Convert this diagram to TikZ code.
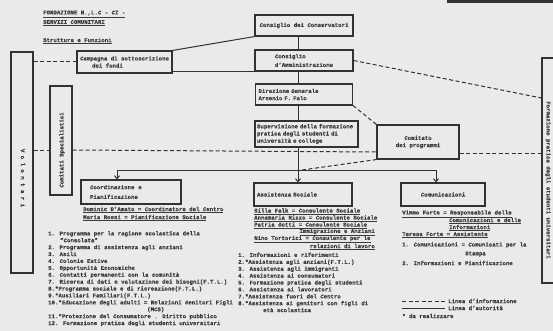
\documentclass[tikz,border=0pt]{standalone}
\usepackage{fontspec}
\setmainfont{Liberation Mono}[FakeBold=0.3]
\usetikzlibrary{arrows.meta,calc}
\definecolor{paper}{RGB}{234,234,232}
\definecolor{ink}{RGB}{50,50,50}
\definecolor{txt}{RGB}{60,60,60}
\newcommand\myfs{\fontsize{5.7}{7.2}\selectfont\bfseries}
\newcommand\mylist{\fontsize{5.7}{6.9}\selectfont\bfseries}
\tikzset{
  box/.style={draw=ink, line width=1.1pt, inner sep=0pt, font=\myfs, text=txt},
  lbl/.style={anchor=west, inner sep=0pt, font=\myfs, text=txt},
  lble/.style={anchor=east, inner sep=0pt, font=\myfs, text=txt},
  blk/.style={anchor=north west, inner sep=0pt, font=\mylist, text=txt, align=left},
  vtxt/.style={inner sep=0pt, font=\myfs, text=txt},
  info/.style={draw=ink, line width=1pt, dash pattern=on 4pt off 2.5pt},
  auth/.style={draw=ink, line width=1pt},
  arr/.style={-{Straight Barb[length=3pt,width=5pt]}}
}
\begin{document}
\begin{tikzpicture}[x=1pt,y=-1pt]
\useasboundingbox (0,0) rectangle (553,331);
\clip (0,0) rectangle (553,331);
\fill[paper] (0,0) rectangle (553,331);
\fill[ink] (447,0) rectangle (553,3.5);

% header
\node[lbl] (h1) at (43,14) {\underline{FONDAZIONE N.,L.C - CI -}};
\node[lbl] (h2) at (43,23) {\underline{SERVIZI COMUNITARI}};
\node[lbl] (h3) at (43,41) {\underline{Struttura e Funzioni}};

% boxes
\node[box, minimum width=98pt, minimum height=21pt] (cons) at (304,25.5) {Consiglio dei Conservatori};
\node[box, minimum width=98pt, minimum height=21pt, align=left] (amm) at (304,60.5) {Consiglio\\[1.5pt]d'Amministrazione};
\node[box, minimum height=21pt, text width=91pt, inner xsep=3pt, align=left] (dir) at (304,94.5) {Direzione Generale\\Arsenio F. Falo};
\node[box, minimum height=26pt, text width=99pt, inner xsep=2pt, align=left] (sup) at (306.5,134) {Supervisione della formazione\\pratica degli studenti di\\università e college};
\node[box, minimum width=95pt, minimum height=22pt, align=left] (camp) at (124.5,62) {Campagna di sottoscrizione\\\hspace*{12pt}dei fondi};
\node[box, minimum width=82pt, minimum height=34pt, align=center] (comit) at (418,142) {Comitato\\dei programmi};
\node[box, minimum height=24pt, text width=82pt, inner xsep=9pt, align=left] (coord) at (131,192) {Coordinazione~~e\\[2.5pt]Pianificazione};
\node[box, minimum height=23pt, text width=92pt, inner xsep=3pt, align=left] (assist) at (303,194.5) {Assistenza~Sociale};
\node[box, minimum width=84pt, minimum height=23pt] (comun) at (443,194.5) {Comunicazioni};

% tall side boxes
\node[box, minimum width=22pt, minimum height=221pt] (lbox) at (22,162.5) {};
\node[vtxt, rotate=-90] (ltxt) at (23,178) {V o l o n t a r i};
\node[box, minimum width=22pt, minimum height=109pt] (inner) at (61,140.5) {};
\node[vtxt, rotate=90] (itxt) at (62,150) {Comitati Specialistici};
\node[box, minimum width=24pt, minimum height=225pt] (rbox) at (554,170.5) {};
\node[vtxt, rotate=-90] (rtxt) at (548,180) {Formazione pratica degli studenti universitari};

% authority lines
\coordinate (vx) at (298,0);
\coordinate (busL) at (117,170);
\coordinate (busR) at (436,170);
\coordinate (jn) at (302,170);
\draw[auth] (cons.south -| vx) -- (amm.north -| vx);
\draw[auth] (amm.south -| vx) -- (dir.north -| vx);
\draw[auth] (dir.south -| vx) -- (sup.north -| vx);
\draw[auth, arr] (sup.south -| vx) -- (assist.north -| vx);
\draw[auth] (busL) -- (busR);
\draw[auth, arr] (busL) -- (coord.north -| busL);
\draw[auth, arr] (busR) -- (comun.north -| busR);
\draw[auth] (camp.north east) -- (cons.south west);
\draw[auth] (camp.east |- amm.south) -- (amm.south west);

% information lines
\draw[info] (lbox.east |- camp.west) -- (camp.west);
\draw[info] (amm.east) -- (rbox.west |- 0,98);
\draw[info] (dir.south east) -- (comit.north west);
\draw[info] (lbox.east |- 0,150) -- (inner.west |- 0,150);
\draw[info] (inner.east |- 0,150) -- (comit.west |- 0,152);
\draw[info] (jn) -- (comit.south west);
\draw[info] (comit.east |- 0,153) -- (rbox.west |- 0,153);

% Coordinazione staff and tasks
\node[lbl] (c1) at (83,210) {\underline{Dominic D'Amato = Coordinatore del Centro}};
\node[lbl] (c2) at (83,218) {\underline{Maria Rossi = Pianificazione Sociale}};
\node[blk] (clist) at (48,231) {1. Programma per la ragione scolastica della\\
\hspace*{12pt}"Consolata"\\
2. Programma di assistenza agli anziani\\
3. Asili\\
4. Colonie Estive\\
5. Opportunità Economiche\\
6. Contatti permanenti con la comunità\\
7. Ricerca di dati e valutazione dei bisogni(F.T.L.)\\
8.*Programma sociale e di ricreazione(F.T.L.)\\
9.*Ausiliari Familiari(F.T.L.)\\
10.*Educazione degli adulti = Relazioni Genitori Figli\\
\hspace*{99pt}(MCS)\\
11.*Protezione del Consumatore . Diritto pubblico\\
12. Formazione pratica degli studenti universitari};

% Assistenza staff and tasks
\node[lbl] (a1) at (254,211.5) {\underline{Silla Falk = Consulente Sociale}};
\node[lbl] (a2) at (254,218.5) {\underline{Annamaria Rizzo = Consulente Sociale}};
\node[lbl] (a3) at (254,225.5) {\underline{Patria Gotti = Consulente Sociale}};
\node[lble] (a4) at (375,232.5) {\underline{Immigrazione e Anziani}};
\node[lbl] (a5) at (254,239.5) {\underline{Nino Tortorici = Consulente per le}};
\node[lble] (a6) at (375,247) {\underline{relazioni di lavoro}};
\node[blk] (alist) at (238,252.5) {1. Informazioni e riferimenti\\
2.*Assistenza agli anziani(F.T.L.)\\
3. Assistenza agli immigranti\\
4. Assistenza ai consumatori\\
5. Formazione pratica degli studenti\\
6. Assistenza ai lavoratori\\
7.*Assistenza fuori del Centro\\
8.*Assistenza ai genitori con figli di\\
\hspace*{25pt}età scolastica};

% Comunicazioni staff and tasks
\node[lbl] (m1) at (402,214) {\underline{Vimmo Forte = Responsabile delle}};
\node[lbl] (m2) at (449,221) {\underline{Comunicazioni e delle}};
\node[lbl] (m3) at (449,228) {\underline{Informazioni}};
\node[lbl] (m4) at (402,235) {\underline{Teresa Forte = Assistente}};
\node[lbl] (m5) at (402,245) {1. Comunicazioni = Comunicati per la};
\node[lbl] (m6) at (465,254) {Stampa};
\node[lbl] (m7) at (402,263) {2. Informazioni e Pianificazione};

% legend
\coordinate (lg1a) at (402,301);
\coordinate (lg1b) at (445,301);
\coordinate (lg2a) at (402,308);
\coordinate (lg2b) at (445,308);
\draw[info] (lg1a) -- (lg1b);
\draw[auth] (lg2a) -- (lg2b);
\node[lbl] (lg1) at (448,301) {Linea d'informazione};
\node[lbl] (lg2) at (448,308) {Linea d'autorità};
\node[lbl] (lg3) at (402,316) {* da realizzare};
\end{tikzpicture}
\end{document}
